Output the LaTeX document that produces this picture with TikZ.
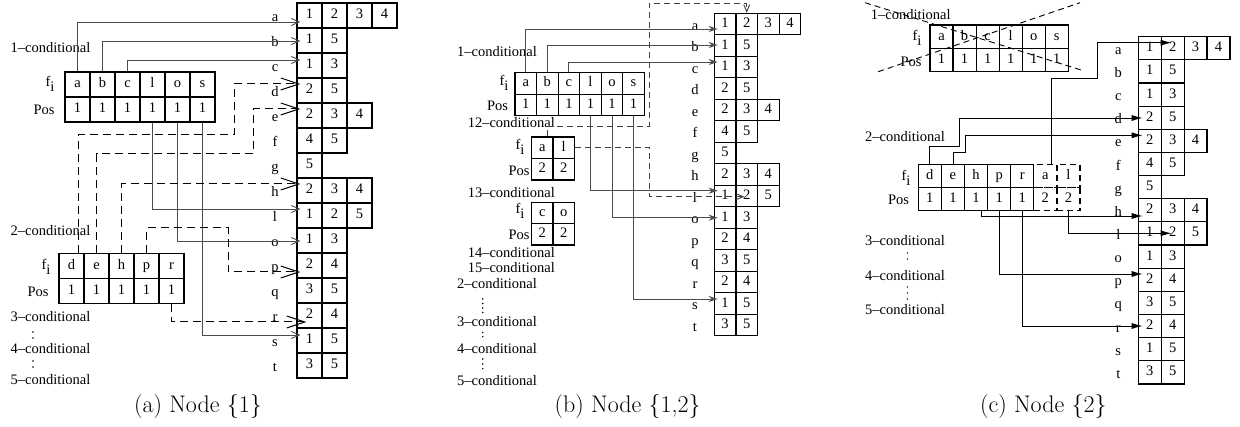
\documentclass[tikz,border=0pt]{standalone}
\usepackage{fontspec}
\newfontfamily\tms[Ligatures=TeX]{Liberation Serif}
\usetikzlibrary{arrows.meta}
\tikzset{
  txt/.style={font=\tms\fontsize{14.5}{17}\selectfont, inner sep=0pt},
  lbl/.style={txt, anchor=base},
  cell/.style={draw, line width=1.2pt, inner sep=0pt, text height=10pt, text depth=3pt, font=\tms\fontsize{14.5}{17}\selectfont},
  dcell/.style={cell, dash pattern=on 6pt off 4pt},
  captxt/.style={font=\fontsize{24}{28}\selectfont, inner sep=0pt},
  conA/.style={draw=black!70, line width=0.9pt, -{Straight Barb[length=8pt,width=7pt]}, shorten >=-4pt},
  conAd/.style={draw=black, line width=1pt, dash pattern=on 8pt off 5pt, -{Straight Barb[length=18pt,width=12pt]}, shorten >=-4pt},
  conB/.style={draw=black!70, line width=0.9pt, -{Stealth[length=9pt,width=6pt]}, shorten >=-4pt},
  conBd/.style={draw=black!75, line width=0.9pt, dash pattern=on 6pt off 4pt, -{Straight Barb[length=7pt,width=6pt]}},
  conC/.style={draw=black, line width=0.9pt, -{Latex[length=11pt,width=6pt]}, shorten >=-5pt},
  dotfill/.style={fill=black},
}
% right table: prefix, label x, x0, y0, cell w, cell h
\newcommand{\tabR}[6]{%
 \foreach \rw/\vals/\ri in {a/{1,2,3,4}/0,b/{1,5}/1,c/{1,3}/2,d/{2,5}/3,e/{2,3,4}/4,f/{4,5}/5,g/{5}/6,h/{2,3,4}/7,l/{1,2,5}/8,o/{1,3}/9,p/{2,4}/10,q/{3,5}/11,r/{2,4}/12,s/{1,5}/13,t/{3,5}/14}{%
   \node[lbl] (#1-\rw) at (#2,{#4+#6*\ri+0.5*#6+6}) {\rw};
   \foreach \val [count=\cj] in \vals {%
     \node[cell,minimum width=#5pt,minimum height=#6pt] (#1-\rw\cj) at ({#3+#5*\cj-0.5*#5},{#4+#6*\ri+0.5*#6}) {\val};
   }%
 }%
}
% left tables: prefix, x0, y0, w, h, list of top/bottom/index
\newcommand{\tabL}[6]{%
  \foreach \tv/\bv/\ci in {#6} {%
    \node[cell,minimum width=#4pt,minimum height=#5pt] (#1-t\ci) at ({#2+#4*\ci+0.5*#4},{#3+0.5*#5}) {\tv};
    \node[cell,minimum width=#4pt,minimum height=#5pt] (#1-b\ci) at ({#2+#4*\ci+0.5*#4},{#3+1.5*#5}) {\bv};
  }%
}
\newcommand{\fsub}{f\raisebox{-5pt}{i}}
\begin{document}
\begin{tikzpicture}[x=1pt,y=-1pt]
\useasboundingbox (0,0) rectangle (1240,427);
% ---------------- panel (a)
\tabR{A}{275}{297}{3}{25}{25}
\tabL{A1}{65}{72}{25}{25}{a/1/0,b/1/1,c/1/2,l/1/3,o/1/4,s/1/5}
\tabL{A2}{59}{253.3}{25}{25.2}{d/1/0,e/1/1,h/1/2,p/1/3,r/1/4}
\node[txt] (A-fi1) at (50,84) {\fsub};
\node[txt] (A-pos1) at (44,110) {Pos};
\node[txt] (A-fi2) at (46,267) {\fsub};
\node[txt] (A-pos2) at (38,292) {Pos};
\node[txt] (A-k1) at (50.5,48) {1--conditional};
\node[txt] (A-k2) at (50.5,231) {2--conditional};
\node[txt] (A-k3) at (50.5,317) {3--conditional};
\node[txt] (A-k4) at (50.5,349) {4--conditional};
\node[txt] (A-k5) at (50.5,380) {5--conditional};
\foreach \yy in {332,338,361,367} \fill[dotfill] (33,\yy) circle (0.8pt);
\draw[conA] (A1-t0.north) |- (A-a1.west |- 0,22);
\draw[conA] (A1-t1.north) |- (A-b1.west |- 0,41);
\draw[conA] (A1-t2.north) |- (A-c1.west |- 0,60);
\draw[conA] (A1-b3.south) |- (A-l1.west |- 0,209);
\draw[conA] (A1-b4.south) |- (A-o1.west |- 0,241);
\draw[conA] (A1-b5.south) |- (A-s1.west |- 0,335);
\draw[conAd] ([xshift=6.5pt]A2-t0.north) |- (234,135) |- (A-d1.west |- 0,84);
\draw[conAd] (A2-t1.north) |- (253,154) |- (A-e1.west |- 0,109);
\draw[conAd] (A2-t2.north) |- (A-h1.west |- 0,184);
\draw[conAd] (A2-t3.north) |- (228,228) |- (A-p1.west |- 0,272);
\draw[conAd, shorten >=-10pt] (A2-b4.south) |- (A-r1.west |- 0,322);
\node[captxt] (capA) at (198,407) {(a) Node \{1\}};
% ---------------- panel (b)
\tabR{B}{695}{714.3}{13.3}{21.6}{21.5}
\tabL{B1}{515}{72.7}{21.55}{21.5}{a/1/0,b/1/1,c/1/2,l/1/3,o/1/4,s/1/5}
\tabL{B2}{531.7}{137}{21.3}{21.5}{a/2/0,l/2/1}
\tabL{B3}{531.7}{202.3}{21.3}{21.4}{c/2/0,o/2/1}
\node[txt] (B-fi1) at (504,83) {\fsub};
\node[txt] (B-pos1) at (497.5,106) {Pos};
\node[txt] (B-fi2) at (520,147) {\fsub};
\node[txt] (B-pos2) at (519,171) {Pos};
\node[txt] (B-fi3) at (520,211) {\fsub};
\node[txt] (B-pos3) at (519,235) {Pos};
\node[txt] (B-k1) at (497,52) {1--conditional};
\node[txt] (B-k12) at (511.3,123) {12--conditional};
\node[txt] (B-k13) at (511.3,193) {13--conditional};
\node[txt] (B-k14) at (511.3,252.3) {14--conditional};
\node[txt] (B-k15) at (511.3,267.7) {15--conditional};
\node[txt] (B-k2) at (497,283.3) {2--conditional};
\node[txt] (B-k3) at (497,321.7) {3--conditional};
\node[txt] (B-k4) at (497,349) {4--conditional};
\node[txt] (B-k5) at (497,381) {5--conditional};
\foreach \yy in {299,303.5,308,312.5,332.7,336.7,359,364,368.7} \fill[dotfill] (482.7,\yy) circle (0.8pt);
\draw[conB] (B1-t0.north) |- (B-a1.west |- 0,29);
\draw[conB] (B1-t1.north) |- (B-b1.west |- 0,45);
\draw[conB] (B1-t2.north) |- (B-c1.west |- 0,62);
\draw[conB] (B1-b3.south) |- (B-l1.west |- 0,190.7);
\draw[conB] (B1-b4.south) |- (B-o1.west |- 0,217.7);
\draw[conB] (B1-b5.south) |- (B-s1.west |- 0,299);
\draw[conBd] ([xshift=5.4pt]B2-t0.north) |- (649.3,126) |- (B-a2.north |- 0,3) -- (B-a2.north);
\draw[conBd, shorten >=-9pt] (B2-t1.east) -| (649.3,196.7) -- (B-l2.west |- 0,196.7);
\node[captxt] (capB) at (627.7,407) {(b) Node \{1,2\}};
% ---------------- panel (c)
\tabR{C}{1118.3}{1138.3}{36.7}{22.9}{23.15}
\tabL{C1}{930}{25}{23.05}{23.3}{a/1/0,b/1/1,c/1/2,l/1/3,o/1/4,s/1/5}
\tabL{C2}{918.3}{164.3}{23.1}{23.2}{d/1/0,e/1/1,h/1/2,p/1/3,r/1/4}
\node[dcell,minimum width=23.1pt,minimum height=23.2pt] (C2-t5) at (1045.35,175.9) {a};
\node[dcell,minimum width=23.1pt,minimum height=23.2pt] (C2-t6) at (1068.45,175.9) {l};
\node[dcell,minimum width=23.1pt,minimum height=23.2pt] (C2-b5) at (1045.35,199.1) {2};
\node[dcell,minimum width=23.1pt,minimum height=23.2pt] (C2-b6) at (1068.45,199.1) {2};
\node[txt] (C-fi1) at (917,38) {\fsub};
\node[txt] (C-pos1) at (911,62) {Pos};
\node[txt] (C-fi2) at (906,178) {\fsub};
\node[txt] (C-pos2) at (898.5,200) {Pos};
\node[txt] (C-k1) at (910.8,15) {1--conditional};
\node[txt] (C-k2) at (905,137) {2--conditional};
\node[txt] (C-k3) at (905,240.7) {3--conditional};
\node[txt] (C-k4) at (905,275.7) {4--conditional};
\node[txt] (C-k5) at (905,310) {5--conditional};
\foreach \yy in {253,259,287,293,299} \fill[dotfill] (907.3,\yy) circle (0.8pt);
\draw[line width=0.9pt, dash pattern=on 6pt off 4pt] (865,2.7) -- (1083.3,70.7);
\draw[line width=0.9pt, dash pattern=on 6pt off 4pt] (878.3,71.7) -- (1080,2.7);
\draw[conC] (C2-t0.north) |- (959,146.7) |- (C-d1.west |- 0,118);
\draw[conC] (C2-t1.north) |- (965,152.7) |- (C-e1.west |- 0,135.3);
\draw[conC, shorten >=-11pt] ([xshift=5.7pt]C2-t5.north) |- (1097.7,78) |- (C-a2.west |- 0,42.7);
\draw[conC] ([xshift=5.6pt]C2-b2.south) |- (C-h1.west |- 0,216);
\draw[conC] (C2-b3.south) |- (C-p1.west |- 0,274);
\draw[conC] (C2-b4.south) |- (C-r1.west |- 0,326);
\draw[conC, shorten >=-11pt] (C2-b6.south) |- (C-l2.west |- 0,233.3);
\node[captxt] (capC) at (1043.3,407) {(c) Node \{2\}};
\end{tikzpicture}
\end{document}
